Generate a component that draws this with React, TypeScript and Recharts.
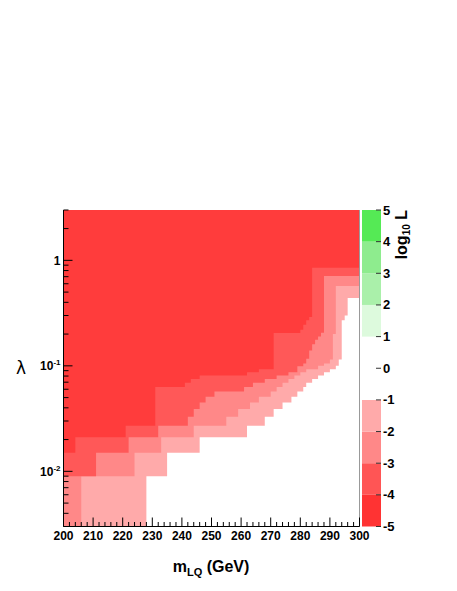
import React from 'react';
import { ComposedChart, Area, Line, XAxis, YAxis, ReferenceLine, ReferenceArea, Label } from 'recharts';

// ---- data: lower λ edge (for each m_LQ bin start) above which log10 L is at most the given level ----
const edgeLevelMinus1: [number, number][] = [
  [200, 0.003], [228, 0.009], [235, 0.015], [246, 0.021], [262, 0.027], [268, 0.033], [271, 0.039],
  [274, 0.045], [277, 0.051], [279, 0.057], [281, 0.063], [282, 0.069], [284, 0.075], [286, 0.081],
  [288, 0.087], [290, 0.093], [292, 0.1], [293, 0.115], [294, 0.27], [295, 0.3], [296, 0.44], [300, 0.44],
];
const edgeLevelMinus2: [number, number][] = [
  [200, 0.003], [206, 0.009], [224, 0.015], [233, 0.021], [244, 0.027], [255, 0.033], [259, 0.039],
  [263, 0.045], [266, 0.051], [270, 0.057], [272, 0.063], [274, 0.069], [276, 0.075], [278, 0.081],
  [280, 0.087], [282, 0.093], [286, 0.1], [288, 0.105], [290, 0.115], [291, 0.2], [292, 0.57], [300, 0.57],
];
const edgeLevelMinus3: [number, number][] = [
  [200, 0.009], [211, 0.015], [222, 0.021], [232, 0.027], [242, 0.033], [244, 0.039], [246, 0.045],
  [248, 0.051], [251, 0.057], [261, 0.063], [264, 0.069], [268, 0.075], [272, 0.081], [276, 0.087],
  [279, 0.099], [281, 0.105], [282, 0.117], [283, 0.14], [284, 0.16], [285, 0.177], [286, 0.19],
  [287, 0.206], [288, 0.71], [300, 0.71],
];
const edgeLevelMinus4: [number, number][] = [
  [200, 0.015], [204, 0.021], [221, 0.027], [231, 0.063], [241, 0.069], [243, 0.075], [246, 0.081],
  [262, 0.087], [266, 0.093], [271, 0.205], [280, 0.22], [281, 0.245], [282, 0.27], [283, 0.29],
  [284, 0.85], [300, 0.85],
];

// ---- axes ----
const xDomain: [number, number] = [200, 300];
const xTicks = [
  200, 202, 204, 206, 208, 210, 212, 214, 216, 218, 220, 222, 224, 226, 228, 230, 232, 234, 236, 238,
  240, 242, 244, 246, 248, 250, 252, 254, 256, 258, 260, 262, 264, 266, 268, 270, 272, 274, 276, 278,
  280, 282, 284, 286, 288, 290, 292, 294, 296, 298, 300,
];
const yDomain: [number, number] = [0.003, 3];
const yTicks = [
  0.003, 0.004, 0.005, 0.006, 0.007, 0.008, 0.009, 0.01, 0.02, 0.03, 0.04, 0.05, 0.06, 0.07, 0.08, 0.09,
  0.1, 0.2, 0.3, 0.4, 0.5, 0.6, 0.7, 0.8, 0.9, 1, 2, 3,
];
const yMajorTicks = [0.01, 0.1, 1];
const yMajorExponents = ['-2', '-1', ''];

// ---- colour scale ----
const zTicks = [-5, -4, -3, -2, -1, 0, 1, 2, 3, 4, 5];
const zBandLow = [-5, -4, -3, -2, -1, 0, 1, 2, 3, 4];
const zBandColor = ['#ff3333', '#ff5555', '#ff8888', '#ffaaaa', '#ffffff', '#ffffff', '#ddfadd', '#aaf0aa', '#8eec8e', '#55ea55'];
const levelFill = { m1: '#ffaaaa', m2: '#ff8888', m3: '#ff5858', m4: '#ff3c3c' };

const FONT = '"Liberation Sans", Arial, Helvetica, sans-serif';

function stepValue(edge: [number, number][], m: number): number {
  let v = edge[0][1];
  for (const [x, l] of edge) if (x <= m) v = l;
  return v;
}
const allEdges = [edgeLevelMinus1, edgeLevelMinus2, edgeLevelMinus3, edgeLevelMinus4];
const breakMasses = Array.from(new Set(allEdges.flatMap((e) => e.map((p) => p[0])))).sort((a, b) => a - b);
const table = breakMasses.map((m) => ({
  m,
  m1: stepValue(edgeLevelMinus1, m),
  m2: stepValue(edgeLevelMinus2, m),
  m3: stepValue(edgeLevelMinus3, m),
  m4: stepValue(edgeLevelMinus4, m),
}));
const zTable = zTicks.map((z, i) => ({ u: i / (zTicks.length - 1), z }));

const XTick = (props: any) => {
  const { x, y, payload } = props;
  const v = payload.value as number;
  const major = v % 10 === 0;
  return (
    <g>
      <line x1={x} x2={x} y1={y} y2={y - (major ? 9 : 4.5)} stroke="#000" strokeWidth={1} />
      {major && (
        <text x={x} y={y + 13} textAnchor="middle" fontFamily={FONT} fontWeight="bold" fontSize={12} fill="#000">
          {v}
        </text>
      )}
    </g>
  );
};

const YTick = (props: any) => {
  const { x, y, payload } = props;
  const v = payload.value as number;
  const idx = yMajorTicks.findIndex((t) => Math.abs(t - v) < 1e-9);
  const major = idx >= 0;
  return (
    <g>
      <line x1={x} x2={x + (major ? 9 : 5)} y1={y} y2={y} stroke="#000" strokeWidth={1} />
      {major && (
        <text x={x - 3} y={y + 4.5} textAnchor="end" fontFamily={FONT} fontWeight="bold" fontSize={12} fill="#000">
          {yMajorExponents[idx] === '' ? (
            '1'
          ) : (
            <>
              <tspan>10</tspan>
              <tspan dy={-5} fontSize={8}>{yMajorExponents[idx]}</tspan>
            </>
          )}
        </text>
      )}
    </g>
  );
};

const ZTick = (props: any) => {
  const { x, y, payload } = props;
  return (
    <g>
      <line x1={x - 5} x2={x} y1={y} y2={y} stroke="#333" strokeWidth={1} />
      <text x={x + 2} y={y + 4.5} textAnchor="start" fontFamily={FONT} fontWeight="bold" fontSize={13} fill="#000">
        {payload.value}
      </text>
    </g>
  );
};

export default function App() {
  return (
    <div style={{ position: 'absolute', left: 0, top: 0, width: 457, height: 591, background: '#fff' }}>
      <div style={{ position: 'absolute', left: 0, top: 0 }}>
        <ComposedChart width={457} height={591} data={table} margin={{ top: 210, right: 97.5, bottom: 34.5, left: 8.5 }}>
          <XAxis
            dataKey="m"
            type="number"
            domain={xDomain}
            allowDataOverflow
            ticks={xTicks}
            interval={0}
            tick={<XTick />}
            tickLine={false}
            tickSize={0}
            tickMargin={0}
            height={30}
            axisLine={{ stroke: '#000', strokeWidth: 1 }}
          >
            <Label
              content={() => (
                <text x={211} y={572} textAnchor="middle" fontFamily={FONT} fontWeight="bold" fontSize={16} fill="#000">
                  <tspan>m</tspan>
                  <tspan dy={4} fontSize={11}>LQ</tspan>
                  <tspan dy={-4}> (GeV)</tspan>
                </text>
              )}
            />
          </XAxis>
          <YAxis
            type="number"
            scale="log"
            domain={yDomain}
            allowDataOverflow
            ticks={yTicks}
            interval={0}
            tick={<YTick />}
            tickLine={false}
            tickSize={0}
            tickMargin={0}
            width={55}
            axisLine={{ stroke: '#000', strokeWidth: 1 }}
          >
            <Label
              content={() => (
                <text x={21} y={374} textAnchor="middle" fontFamily='"DejaVu Sans", sans-serif' fontSize={17} fill="#000">
                  λ
                </text>
              )}
            />
          </YAxis>
          <Area type="stepAfter" dataKey="m1" baseValue={3} fill={levelFill.m1} fillOpacity={1} stroke="none" isAnimationActive={false} dot={false} activeDot={false} />
          <Area type="stepAfter" dataKey="m2" baseValue={3} fill={levelFill.m2} fillOpacity={1} stroke="none" isAnimationActive={false} dot={false} activeDot={false} />
          <Area type="stepAfter" dataKey="m3" baseValue={3} fill={levelFill.m3} fillOpacity={1} stroke="none" isAnimationActive={false} dot={false} activeDot={false} />
          <Area type="stepAfter" dataKey="m4" baseValue={3} fill={levelFill.m4} fillOpacity={1} stroke="none" isAnimationActive={false} dot={false} activeDot={false} />
          <ReferenceLine x={300} stroke="#999" strokeWidth={1} />
        </ComposedChart>
      </div>
      <div style={{ position: 'absolute', left: 0, top: 0 }}>
        <ComposedChart width={457} height={591} data={zTable} margin={{ top: 210, right: 36, bottom: 64.5, left: 362 }}>
          <XAxis dataKey="u" type="number" domain={[0, 1]} hide />
          <YAxis
            orientation="right"
            type="number"
            domain={[-5, 5]}
            allowDataOverflow
            ticks={zTicks}
            interval={0}
            tick={<ZTick />}
            tickLine={false}
            tickSize={0}
            tickMargin={0}
            axisLine={false}
            width={40}
          >
            <Label
              content={() => (
                <text transform="translate(406.5,210) rotate(-90)" textAnchor="end" fontFamily={FONT} fontWeight="bold" fontSize={16} fill="#000">
                  <tspan>log</tspan>
                  <tspan dy={3} fontSize={10}>10</tspan>
                  <tspan dy={-3}> L</tspan>
                </text>
              )}
            />
          </YAxis>
          {zBandLow.map((lo, i) => (
            <ReferenceArea key={lo} x1={0} x2={1} y1={lo} y2={lo + 1} fill={zBandColor[i]} fillOpacity={1} stroke="none" ifOverflow="visible" />
          ))}
          <Line dataKey="z" stroke="none" dot={false} activeDot={false} isAnimationActive={false} legendType="none" />
        </ComposedChart>
      </div>
    </div>
  );
}
